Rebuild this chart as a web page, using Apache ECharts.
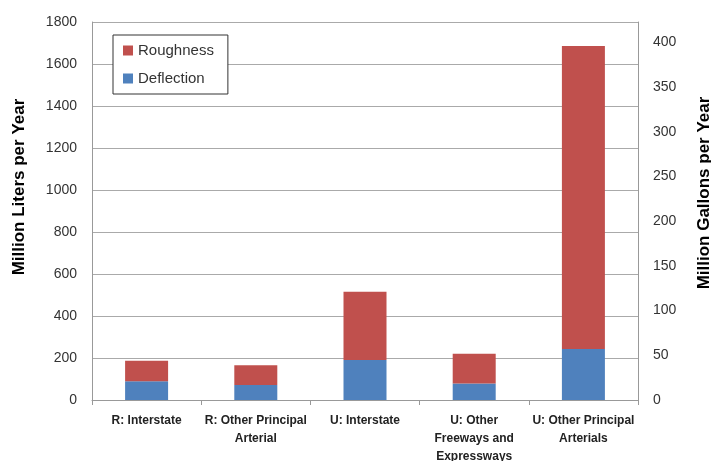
<!DOCTYPE html>
<html>
<head>
<meta charset="utf-8">
<script src="https://cdn.jsdelivr.net/npm/echarts@6/dist/echarts.min.js"></script>
<style>html,body{margin:0;padding:0;background:#fff}#c{width:711px;height:461px}</style>
</head>
<body>
<div id="c"></div>
<script>
const categories = ['R: Interstate', 'R: Other Principal\nArterial', 'U: Interstate', 'U: Other\nFreeways and\nExpressways', 'U: Other Principal\nArterials'];
const deflection = [89, 71, 190, 78, 243];
const roughness = [98, 94, 325, 142, 1443];
const leftTicks = [0, 200, 400, 600, 800, 1000, 1200, 1400, 1600, 1800];
const rightTicks = [0, 50, 100, 150, 200, 250, 300, 350, 400];

const font = 'Liberation Sans, Arial, sans-serif';
const chart = echarts.init(document.getElementById('c'));
chart.setOption({
  animation: false,
  grid: { left: 92, right: 73, top: 22, bottom: 61, containLabel: false, outerBoundsMode: 'none' },
  legend: {
    orient: 'vertical', left: 113, top: 35,
    data: ['Roughness', 'Deflection'],
    itemWidth: 10, itemHeight: 10, itemGap: 13,
    padding: [8, 14, 8, 10],
    borderColor: '#333', borderWidth: 1, backgroundColor: '#fff',
    textStyle: { fontFamily: font, fontSize: 15, color: '#333' },
    icon: 'rect'
  },
  xAxis: {
    type: 'category', data: categories,
    axisLine: { lineStyle: { color: '#999' } },
    axisTick: { show: true, length: 5, lineStyle: { color: '#999' } },
    axisLabel: { interval: 0, fontFamily: font, fontSize: 12, fontWeight: 'bold', color: '#222', lineHeight: 18, margin: 12 }
  },
  yAxis: [{
    type: 'value', min: 0, max: 1800, interval: 200,
    name: 'Million Liters per Year', nameLocation: 'middle', nameGap: 64,
    nameTextStyle: { fontFamily: font, fontSize: 17, fontWeight: 'bold', color: '#000', padding: [0, 0, 0, 48] },
    axisLine: { show: true, lineStyle: { color: '#999' } },
    axisTick: { show: false },
    splitLine: { lineStyle: { color: '#aaa' } },
    axisLabel: { fontFamily: font, fontSize: 14, color: '#333', margin: 15,
      formatter: v => leftTicks.includes(v) ? String(v) : '' }
  }, {
    type: 'value', min: 0, max: 423, interval: 50,
    name: 'Million Gallons per Year', nameLocation: 'middle', nameGap: 58,
    nameTextStyle: { fontFamily: font, fontSize: 17, fontWeight: 'bold', color: '#000', padding: [0, 0, 0, 36] },
    axisLine: { show: true, lineStyle: { color: '#999' } },
    axisTick: { show: false },
    splitLine: { show: false },
    axisLabel: { fontFamily: font, fontSize: 14, color: '#333', margin: 15,
      formatter: v => rightTicks.includes(v) ? String(v) : '' }
  }],
  series: [{
    name: 'Deflection', type: 'bar', stack: 'total', data: deflection,
    barWidth: 43, itemStyle: { color: '#4F81BD' }
  }, {
    name: 'Roughness', type: 'bar', stack: 'total', data: roughness,
    barWidth: 43, itemStyle: { color: '#C0504D' }
  }]
});
</script>
</body>
</html>
